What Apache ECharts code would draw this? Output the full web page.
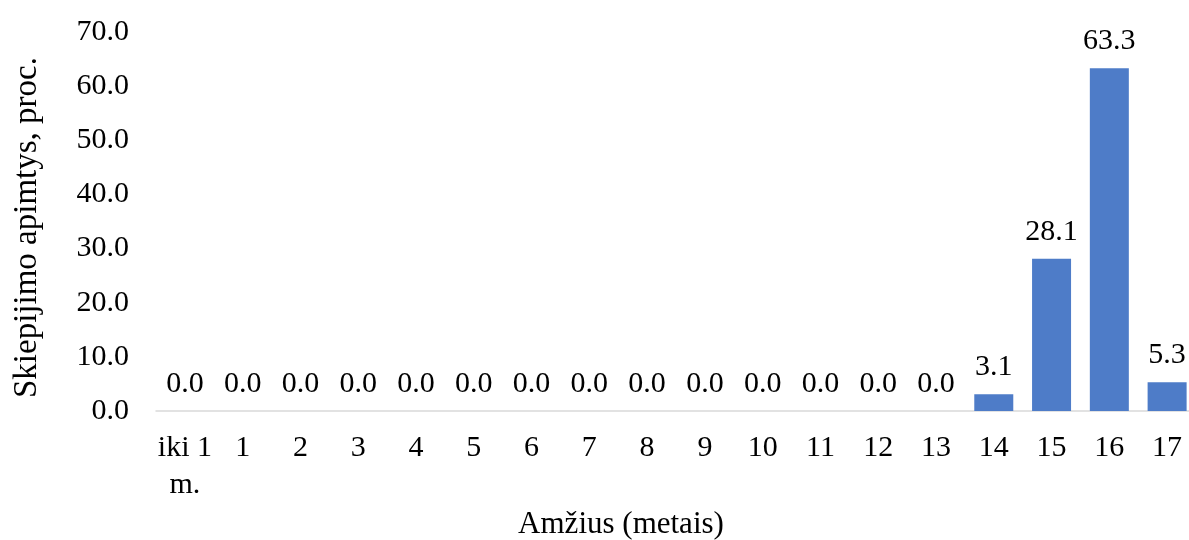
<!DOCTYPE html>
<html>
<head>
<meta charset="utf-8">
<script src="https://cdn.jsdelivr.net/npm/echarts@6/dist/echarts.min.js"></script>
<style>
html,body{margin:0;padding:0;background:#fff;}
#c{width:1189px;height:540px;}
</style>
</head>
<body>
<div id="c"></div>
<script>
var categories = ['iki 1 m.', '1', '2', '3', '4', '5', '6', '7', '8', '9', '10', '11', '12', '13', '14', '15', '16', '17'];
var values = [0.0, 0.0, 0.0, 0.0, 0.0, 0.0, 0.0, 0.0, 0.0, 0.0, 0.0, 0.0, 0.0, 0.0, 3.1, 28.1, 63.3, 5.3];
var yTitle = 'Skiepijimo apimtys, proc.';
var xTitle = 'Amžius (metais)';

var font = '"Liberation Serif", "Times New Roman", serif';
var chart = echarts.init(document.getElementById('c'), null, {renderer: 'canvas'});
chart.setOption({
  animation: false,
  backgroundColor: '#fff',
  textStyle: {fontFamily: font},
  grid: {left: 156, right: -7, top: 32, bottom: 129, containLabel: false, outerBoundsMode: 'none'},
  xAxis: {
    type: 'category',
    data: categories,
    name: xTitle,
    nameLocation: 'middle',
    nameGap: 96,
    nameTextStyle: {fontFamily: font, fontSize: 31, color: '#000', padding: [0, 110, 0, 0]},
    axisLine: {lineStyle: {color: '#d9d9d9', width: 1.5}},
    axisTick: {show: false},
    axisLabel: {
      fontFamily: font, fontSize: 30, color: '#000', margin: 19, lineHeight: 37,
      interval: 0,
      formatter: function (v) { return v.replace(' m.', '\nm.'); }
    }
  },
  yAxis: {
    type: 'value',
    min: 0, max: 70, interval: 10,
    name: yTitle,
    nameLocation: 'middle',
    nameGap: 112,
    nameRotate: 90,
    nameTextStyle: {fontFamily: font, fontSize: 33, color: '#000', padding: [0, 12, 0, 0]},
    axisLine: {show: false},
    axisTick: {show: false},
    splitLine: {show: false},
    axisLabel: {
      fontFamily: font, fontSize: 30, color: '#000', margin: 27,
      formatter: function (v) { return v.toFixed(1); }
    }
  },
  series: [{
    type: 'bar',
    data: values,
    barWidth: 39,
    itemStyle: {color: '#4e7cc8'},
    label: {
      show: true, position: 'top', distance: 12,
      fontFamily: font, fontSize: 30, color: '#000',
      formatter: function (p) { return p.value.toFixed(1); }
    }
  }]
});
</script>
</body>
</html>
